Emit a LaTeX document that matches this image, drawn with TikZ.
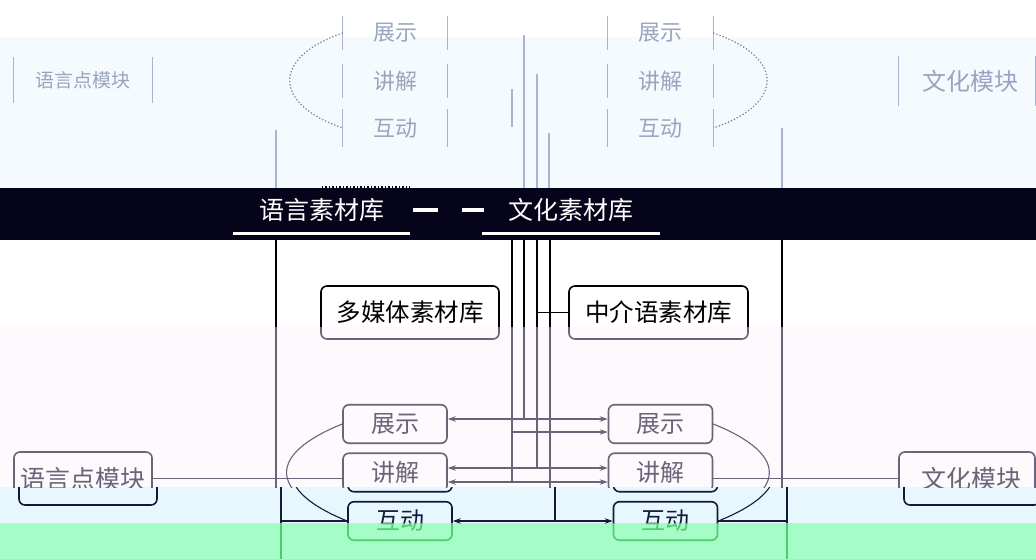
\documentclass[tikz,border=0pt]{standalone}
\usepackage{fontspec}
\setmainfont{Noto Sans CJK SC}
\usetikzlibrary{arrows.meta}

\definecolor{bandblack}{HTML}{05041A}
\definecolor{ghostbg}{HTML}{F5FAFE}
\definecolor{pinkbg}{HTML}{FDF9FD}
\definecolor{cyanbg}{HTML}{E6F8FD}
\definecolor{greenbg}{HTML}{A6FCC6}
\definecolor{ghostink}{HTML}{A8B4D2}
\definecolor{ghostdot}{HTML}{7C88AA}
\definecolor{pinkink}{HTML}{6A6478}
\definecolor{cyanink}{HTML}{16173A}
\definecolor{greenink}{HTML}{4CCC6C}
\colorlet{ink}{black}
\def\bandno{1}
% a label is set only in the band(s) where the reference shows it
\newcommand\onlyband[2]{\ifnum\bandno=#1\relax #2\fi}
\newcommand\lowbands[1]{\ifnum\bandno>2\relax #1\fi}

\tikzset{
  box/.style={draw=ink, text=ink, rounded corners=6pt, line width=1.6pt, inner sep=0pt,
    minimum height=53pt, font=\fontsize{24.5}{26}\selectfont},
  sbox/.style={box, minimum width=104pt, minimum height=38.5pt, font=\fontsize{24}{26}\selectfont},
  mbox/.style={box, font=\fontsize{25}{27}\selectfont},
  conn/.style={draw=ink, line width=1.1pt},
  tip/.style={conn, -{Stealth[length=8pt,width=5.5pt]}},
  bitip/.style={conn, {Stealth[length=8pt,width=5.5pt]}-{Stealth[length=8pt,width=5.5pt]}},
  gtext/.style={text=ghostdot, inner sep=0pt, opacity=0.75},
  gbar/.style={draw=ghostink, line width=1.3pt},
  gcurve/.style={draw=ghostdot, line width=1.3pt, dotted},
  libtext/.style={text=white, inner sep=0pt, font=\fontsize{25}{27}\selectfont},
}

\newcommand\maindiagram{%
  \node[box, minimum width=178pt] (mm) at (410,312.5) {\onlyband{1}{多媒体素材库}};
  \node[box, minimum width=179pt] (zj) at (658.5,312.5) {\onlyband{1}{中介语素材库}};
  \node[sbox] (zsL) at (395,424) {\onlyband{2}{展示}};
  \node[sbox] (jjL) at (395,472.5) {\onlyband{2}{讲解}};
  \node[sbox] (hdL) at (395,521) {\lowbands{互动}};
  \node[sbox] (zsR) at (660.5,424) {\onlyband{2}{展示}};
  \node[sbox] (jjR) at (660.5,472.5) {\onlyband{2}{讲解}};
  \node[sbox] (hdR) at (660.5,521) {\lowbands{互动}};
  \node[mbox, minimum width=138pt] (yy) at (83,478.5) {\onlyband{2}{语言点模块}};
  \node[mbox, minimum width=136pt] (wh) at (967,478.5) {\onlyband{2}{\hspace{8pt}文化模块}};
  \coordinate (tA) at (276,230);
  \coordinate (bA) at (276,570);
  \coordinate (tB) at (512,230);
  \coordinate (tC) at (524,230);
  \coordinate (tD) at (537,230);
  \coordinate (tE) at (550,230);
  \coordinate (tF) at (782,230);
  \coordinate (bF) at (782,570);
  \coordinate (r1) at ([yshift=5pt]zsL.east);
  \coordinate (r2) at ([yshift=-8pt]zsR.west);
  \coordinate (r3) at ([yshift=4.5pt]jjL.east);
  \coordinate (r4) at ([yshift=-9.5pt]jjL.east);
  % long verticals
  \draw[conn] (tA) -- (bA);
  \draw[conn] (tA |- hdL.west) -- (hdL.west);
  \draw[conn] (tF) -- (bF);
  \draw[conn] (hdR.east) -- (hdR.east -| tF);
  % module links
  \draw[conn] (yy.east) -- (yy.east -| jjL.west);
  \draw[conn] (wh.west -| jjR.east) -- (wh.west);
  % loops
  \draw[conn] (zsL.west) .. controls (268,454) and (268,491) .. (hdL.west);
  \draw[conn] (zsR.east) .. controls (788,454) and (788,491) .. (hdR.east);
  % middle bus
  \draw[bitip] (r1) -- (r1 -| zsR.west);
  \draw[conn] (tC) -- (tC |- r1);
  \draw[tip] (tB |- r2) -- (r2);
  \draw[bitip] (r3) -- (r3 -| jjR.west);
  \draw[conn] (tD) -- (tD |- r3);
  \draw[conn] (tD |- zj.west) -- (zj.west);
  \draw[bitip] (r4) -- (r4 -| jjR.west);
  \draw[conn] (tB) -- (tB |- r4);
  \draw[bitip] (hdL.east) -- (hdR.west);
  \draw[conn] (tE) -- (tE |- hdL.east);
}

\begin{document}
\begin{tikzpicture}[x=1pt, y=-1pt]
  \useasboundingbox (0,0) rectangle (1036,559);
  % background bands
  \fill[white] (0,0) rectangle (1036,559);
  \fill[ghostbg] (0,37) rectangle (1036,188);
  \fill[pinkbg] (0,327) rectangle (1036,487);
  \fill[cyanbg] (0,487) rectangle (1036,523);
  \fill[greenbg] (0,523) rectangle (1036,559);

  % ghost row
  \node[gtext, minimum width=138pt, minimum height=46pt, font=\fontsize{19}{20}\selectfont] (g1) at (83,80) {语言点模块};
  \node[gtext, minimum width=104pt, minimum height=33pt, font=\fontsize{22}{23}\selectfont] (g2) at (395,33) {展示};
  \node[gtext, minimum width=104pt, minimum height=33pt, font=\fontsize{22}{23}\selectfont] (g3) at (395,81) {讲解};
  \node[gtext, minimum width=104pt, minimum height=37pt, font=\fontsize{22}{23}\selectfont] (g4) at (395,128) {互动};
  \node[gtext, minimum width=105pt, minimum height=33pt, font=\fontsize{22}{23}\selectfont] (g5) at (660.5,33) {展示};
  \node[gtext, minimum width=105pt, minimum height=33pt, font=\fontsize{22}{23}\selectfont] (g6) at (660.5,81) {讲解};
  \node[gtext, minimum width=105pt, minimum height=37pt, font=\fontsize{22}{23}\selectfont] (g7) at (660.5,128) {互动};
  \node[gtext, minimum width=136pt, minimum height=50pt, font=\fontsize{24}{25}\selectfont] (g8) at (967,81) {\hspace{6pt}文化模块};
  \foreach \g in {g1,g2,g3,g4,g5,g6,g7,g8}{
    \draw[gbar] (\g.north west) -- (\g.south west);
    \draw[gbar] (\g.north east) -- (\g.south east);
  }
  \draw[gcurve] (g2.west) .. controls (272,57) and (272,104) .. (g4.west);
  \draw[gcurve] (g5.east) .. controls (785,57) and (785,104) .. (g7.east);
  \coordinate (gA) at (276,130);
  \coordinate (gB) at (512,89);
  \coordinate (gC) at (524,35);
  \coordinate (gD) at (537,74);
  \coordinate (gE) at (549,133);
  \coordinate (gF) at (782,128);
  \draw[gbar] (gA) -- (gA |- 0,188);
  \draw[gbar] (gB) -- (gB |- 0,127);
  \draw[gbar] (gC) -- (gC |- 0,188);
  \draw[gbar] (gD) -- (gD |- 0,188);
  \draw[gbar] (gE) -- (gE |- 0,188);
  \draw[gbar] (gF) -- (gF |- 0,188);

  % black band
  \fill[bandblack] (0,188) rectangle (1036,240);
  \node[libtext, minimum width=177pt, minimum height=46pt] (lib1) at (321.5,210) {语言素材库};
  \node[libtext, minimum width=178pt, minimum height=46pt] (lib2) at (571,210) {文化素材库};
  \draw[white, line width=3pt] (lib1.south west) -- (lib1.south east);
  \draw[white, line width=3pt] (lib2.south west) -- (lib2.south east);
  \draw[bandblack, line width=1.5pt, dotted] ([xshift=89pt]lib1.north west) -- (lib1.north east);
  \draw[white, line width=4pt] ([xshift=3pt]lib1.east) -- ([xshift=28pt]lib1.east);
  \draw[white, line width=4pt] ([xshift=-20pt]lib2.west) -- ([xshift=2pt]lib2.west);

  % main diagram, band by band
  \begin{scope}
    \clip (0,240) rectangle (1036,327);
    \colorlet{ink}{black}\def\bandno{1}
    \maindiagram
  \end{scope}
  \begin{scope}
    \clip (0,327) rectangle (1036,487);
    \colorlet{ink}{pinkink}\def\bandno{2}
    \maindiagram
  \end{scope}
  \begin{scope}[xshift=5pt]
    \clip (-5,487) rectangle (1031,523);
    \colorlet{ink}{cyanink}\def\bandno{3}
    \maindiagram
  \end{scope}
  \begin{scope}[xshift=5pt]
    \clip (-5,523) rectangle (1031,559);
    \colorlet{ink}{greenink}\def\bandno{4}
    \maindiagram
  \end{scope}
\end{tikzpicture}
\end{document}
